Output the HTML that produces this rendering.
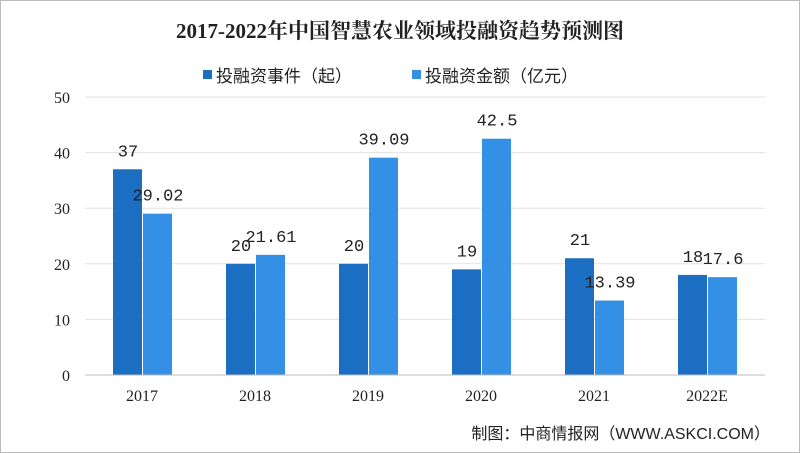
<!DOCTYPE html>
<html><head><meta charset="utf-8"><style>
body{margin:0;background:#fff}
svg{display:block;font-family:"Liberation Serif","Noto Serif CJK SC",serif}
</style></head><body>
<svg width="800" height="453" viewBox="0 0 800 453">
<rect x="0.5" y="0.5" width="799" height="452" fill="#fff" stroke="#bbb"/>
<text x="400" y="38" text-anchor="middle" font-size="21" font-weight="bold" fill="#222">2017-2022年中国智慧农业领域投融资趋势预测图</text>
<g font-family="Liberation Sans,Noto Sans CJK SC,sans-serif" font-size="17" fill="#222">
<rect x="203" y="70" width="9" height="9" fill="#1b6ec2"/>
<text x="216" y="82">投融资事件（起）</text>
<rect x="412" y="70" width="9" height="9" fill="#3490e4"/>
<text x="425" y="82">投融资金额（亿元）</text>
</g>
<g id="grid"></g><g id="bars"></g><g id="labels"></g>
<line x1="85" y1="375" x2="765" y2="375" stroke="#bbb"/>
<text x="770" y="439" text-anchor="end" font-family="Liberation Sans,Noto Sans CJK SC,sans-serif" font-size="16" fill="#222">制图：中商情报网（WWW.ASKCI.COM）</text>
</svg>
<script>
const categories=["2017","2018","2019","2020","2021","2022E"];
const events=[37,20,20,19,21,18];
const amounts=[29.02,21.61,39.09,42.5,13.39,17.6];
const yTicks=[0,10,20,30,40,50];
const ns="http://www.w3.org/2000/svg";
const y=v=>375-v*5.56;
const xc=i=>142+i*113;
const mono='Liberation Mono,monospace';
function mk(t,a,p){const e=document.createElementNS(ns,t);for(const k in a)e.setAttribute(k,a[k]);document.getElementById(p).appendChild(e);return e;}
yTicks.forEach(t=>{
 if(t>0){const l=mk('line',{x1:85,x2:765,y1:y(t),y2:y(t),stroke:'#e2e2e2'},'grid');
 
 }
 const tx=mk('text',{x:70,y:y(t)+6,'text-anchor':'end','font-size':16,fill:'#222'},'grid');
 tx.textContent=t;
 
 
});
categories.forEach((c,i)=>{
 const b1=mk('rect',{x:xc(i)-29,y:y(events[i]),width:29,height:375-y(events[i]),fill:'#1b6ec2'},'bars');
 
 
 const b2=mk('rect',{x:xc(i)+1,y:y(amounts[i]),width:29,height:375-y(amounts[i]),fill:'#3490e4'},'bars');
 
 
 const t1=mk('text',{x:xc(i)-14,y:y(events[i])-13,'text-anchor':'middle','font-size':17,'font-family':mono,fill:'#222'},'labels');
 t1.textContent=events[i];
 
 
 const t2=mk('text',{x:xc(i)+16,y:y(amounts[i])-13,'text-anchor':'middle','font-size':17,'font-family':mono,fill:'#222'},'labels');
 t2.textContent=amounts[i];
 
 
 const xl=mk('text',{x:xc(i),y:401,'text-anchor':'middle','font-size':16,fill:'#222'},'labels');
 xl.textContent=c;
 
 
});
</script>
</body></html>
